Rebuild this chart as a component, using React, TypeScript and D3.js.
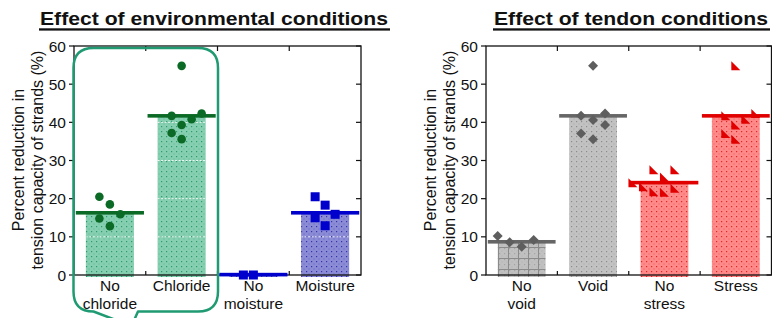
import * as d3 from "d3";

// left panel: environmental conditions
const envCategories = ["No chloride", "Chloride", "No moisture", "Moisture"];
const envLabels = [["No", "chloride"], ["Chloride"], ["No", "moisture"], ["Moisture"]];
const envMeans = [16.3, 41.7, 0.1, 16.3];
const noChlorideVals = [20.5, 18.5, 14.8, 15.9, 12.8];
const noChlorideSlots = [-1, 0, -1, 1, 0];
const chlorideVals = [54.8, 41.7, 42.3, 40.8, 39.3, 37.2, 35.6];
const chlorideSlots = [0, -1, 2, 1, 0, -1, 0];
const noMoistureVals = [0, 0];
const noMoistureSlots = [-1, 0];
const moistureVals = [20.5, 18.3, 15.9, 15.0, 12.9];
const moistureSlots = [-1, 0, 1, -1, 0];

// right panel: tendon conditions
const tenCategories = ["No void", "Void", "No stress", "Stress"];
const tenLabels = [["No", "void"], ["Void"], ["No", "stress"], ["Stress"]];
const tenMeans = [8.7, 41.7, 24.2, 41.7];
const noVoidVals = [10.2, 8.6, 7.4, 9.2];
const noVoidSlots = [-2, -1, 0, 1];
const voidVals = [54.8, 41.7, 42.3, 40.6, 39.3, 37.1, 35.6];
const voidSlots = [0, -1, 1, 0, 1, -1, 0];
const noStressVals = [27.6, 27.6, 25.7, 24.2, 23.1, 21.8, 21.7, 22.7];
const noStressSlots = [-1, 1, 0, -3, -2, -1, 0, 1];
const stressVals = [54.8, 41.7, 42.3, 40.8, 39.3, 37.1, 35.6];
const stressSlots = [0, -1, 2, 1, 0, -1, 0];

const yTicks = [0, 10, 20, 30, 40, 50, 60];

const FONT = "Arial, 'Liberation Sans', Helvetica, sans-serif";

const y = d3.scaleLinear().domain([0, 60]).range([275, 46]);

type Series = { vals: number[]; slots: number[]; spacing: number; marker: string; color: string };

function Marker({ kind, cx, cy, color }: { kind: string; cx: number; cy: number; color: string }) {
  if (kind === "circle") return <circle cx={cx} cy={cy} r={4.3} fill={color} />;
  if (kind === "square") return <rect x={cx - 4.5} y={cy - 4.5} width={9} height={9} fill={color} />;
  if (kind === "diamond") {
    const s = 5;
    return <path d={`M${cx},${cy - s}L${cx + s},${cy}L${cx},${cy + s}L${cx - s},${cy}Z`} fill={color} />;
  }
  // right triangle, right angle at bottom-left
  const h = 4.5;
  return <path d={`M${cx - h},${cy - h}L${cx - h},${cy + h}L${cx + h},${cy + h}Z`} fill={color} />;
}

function Panel(props: {
  x0: number;
  x1: number;
  title: string;
  titleX: number;
  titleLen: number;
  cats: string[];
  labels: string[][];
  means: number[];
  series: Series[];
  barFills: string[];
  meanColors: string[];
  whiteGrid: boolean;
}) {
  const { x0, x1, cats, labels, means, series, barFills, meanColors } = props;
  const x = d3.scaleBand().domain(cats).range([x0, x1]);
  const bw = x.bandwidth();
  const barW = bw * 0.67;
  const lineW = bw * 0.95;
  const bounds = cats.slice(1).map((c) => x(c) as number);
  return (
    <g fontFamily={FONT}>
      <text
        x={props.titleX}
        y={25}
        fontSize={19}
        fontWeight="bold"
        textLength={props.titleLen}
        lengthAdjust="spacingAndGlyphs"
        fill="#111"
      >
        {props.title}
      </text>
      <rect x={props.titleX - 1} y={28.3} width={props.titleLen + 3} height={2.3} fill="#111" />

      {cats.map((c, i) => {
        const cx = (x(c) as number) + bw / 2;
        return (
          <g key={c}>
            <rect
              x={cx - barW / 2}
              y={y(means[i])}
              width={barW}
              height={Math.max(0, y(0) - y(means[i]) + 2)}
              fill={barFills[i]}
            />
            {props.whiteGrid &&
              [10, 20, 30, 40, 50]
                .filter((t) => t < means[i] - 0.5)
                .map((t) => (
                  <line
                    key={t}
                    x1={cx - barW / 2}
                    x2={cx + barW / 2}
                    y1={y(t)}
                    y2={y(t)}
                    stroke="#fff"
                    strokeWidth={1}
                    strokeDasharray="2,1.5"
                    opacity={0.85}
                  />
                ))}
          </g>
        );
      })}

      {/* axes box */}
      <rect x={x0} y={y(60)} width={x1 - x0} height={y(0) - y(60)} fill="none" stroke="#111" strokeWidth={1.3} />
      {yTicks.map((t) => (
        <g key={t}>
          <line x1={x0 - 5} x2={x0} y1={y(t)} y2={y(t)} stroke="#111" strokeWidth={1.2} />
          <line x1={x1 - 5} x2={x1} y1={y(t)} y2={y(t)} stroke="#111" strokeWidth={1.2} />
          <text x={x0 - 8} y={y(t)} dy="0.36em" textAnchor="end" fontSize={15.5} fill="#111">
            {t}
          </text>
        </g>
      ))}
      {bounds.map((b) => (
        <g key={b}>
          <line x1={b} x2={b} y1={y(60)} y2={y(60) + 5} stroke="#111" strokeWidth={1.2} />
          <line x1={b} x2={b} y1={y(0)} y2={y(0) - 4} stroke="#111" strokeWidth={1.2} />
        </g>
      ))}

      {/* y label */}
      <text transform={`translate(${x0 - 50.5},160) rotate(-90)`} textAnchor="middle" fontSize={16} fill="#111">
        Percent reduction in
      </text>
      <text transform={`translate(${x0 - 31.5},160) rotate(-90)`} textAnchor="middle" fontSize={16} fill="#111">
        tension capacity of strands (%)
      </text>

      {/* category labels */}
      {cats.map((c, i) => {
        const cx = (x(c) as number) + bw / 2;
        return labels[i].map((l, j) => (
          <text key={c + j} x={cx} y={291 + j * 18} textAnchor="middle" fontSize={15.5} fill="#111">
            {l}
          </text>
        ));
      })}

      {/* mean lines */}
      {cats.map((c, i) => {
        const cx = (x(c) as number) + bw / 2;
        return (
          <rect key={c} x={cx - lineW / 2} y={y(means[i]) - 1.8} width={lineW} height={3.6} fill={meanColors[i]} />
        );
      })}

      {/* individual specimens */}
      {series.map((s, i) => {
        const cx = (x(cats[i]) as number) + bw / 2;
        return s.vals.map((v, j) => (
          <Marker key={i + "-" + j} kind={s.marker} cx={cx + s.slots[j] * s.spacing} cy={y(v)} color={s.color} />
        ));
      })}
    </g>
  );
}

export default function App() {
  const green = "#0b6a25";
  const blue = "#0000cc";
  const grey = "#5e5e5e";
  const red = "#e00000";
  const envSeries: Series[] = [
    { vals: noChlorideVals, slots: noChlorideSlots, spacing: 10.5, marker: "circle", color: green },
    { vals: chlorideVals, slots: chlorideSlots, spacing: 10, marker: "circle", color: green },
    { vals: noMoistureVals, slots: noMoistureSlots, spacing: 10, marker: "square", color: blue },
    { vals: moistureVals, slots: moistureSlots, spacing: 10, marker: "square", color: blue },
  ];
  const tenSeries: Series[] = [
    { vals: noVoidVals, slots: noVoidSlots, spacing: 12, marker: "diamond", color: grey },
    { vals: voidVals, slots: voidSlots, spacing: 12, marker: "diamond", color: grey },
    { vals: noStressVals, slots: noStressSlots, spacing: 10.5, marker: "triangle", color: red },
    { vals: stressVals, slots: stressSlots, spacing: 10, marker: "triangle", color: red },
  ];

  // callout bubble around the chloride pair
  const bl = 73.5, bt = 48, br = 218, bb = 311.5, r = 20;
  const bubble =
    `M${bl + r},${bt}L${br - r},${bt}Q${br},${bt} ${br},${bt + r}` +
    `L${br},${bb - r}Q${br},${bb} ${br - r},${bb}L138,${bb}L131.5,326L${bl + r},${bb}` +
    `Q${bl},${bb} ${bl},${bb - r}L${bl},${bt + r}Q${bl},${bt} ${bl + r},${bt}Z`;

  return (
    <svg width={772} height={318} style={{ position: "absolute", left: 0, top: 0, background: "#fff" }}>
      <defs>
        <pattern id="dotGreen" width={5} height={5} patternUnits="userSpaceOnUse">
          <rect width={5} height={5} fill="#86cfb1" />
          <rect x={1} y={1} width={1.2} height={1.2} fill="#2b9a6e" />
          <rect x={3.5} y={3.5} width={1} height={1} fill="#5fb894" />
        </pattern>
        <pattern id="dotBlue" width={5} height={5} patternUnits="userSpaceOnUse">
          <rect width={5} height={5} fill="#8b8bd6" />
          <rect x={1} y={1} width={1.2} height={1.2} fill="#3333aa" />
          <rect x={3.5} y={3.5} width={1} height={1} fill="#6565c4" />
        </pattern>
        <pattern id="dotGrey" width={5} height={5} patternUnits="userSpaceOnUse">
          <rect width={5} height={5} fill="#c2c2c2" />
          <rect x={1} y={1} width={1.2} height={1.2} fill="#8c8c8c" />
          <rect x={3.5} y={3.5} width={1} height={1} fill="#a8a8a8" />
        </pattern>
        <pattern id="gridGrey" width={10} height={11} patternUnits="userSpaceOnUse" x={498} y={236}>
          <rect width={10} height={11} fill="url(#dotGrey)" />
          <rect width={10} height={11} fill="#bdbdbd" opacity={0.5} />
          <path d="M0,0.5H10M0.5,0V11" stroke="#8a8a8a" strokeWidth={1} />
        </pattern>
        <pattern id="dotRed" width={5} height={5} patternUnits="userSpaceOnUse">
          <rect width={5} height={5} fill="#ff8a8a" />
          <rect x={1} y={1} width={1.2} height={1.2} fill="#e02525" />
          <rect x={3.5} y={3.5} width={1} height={1} fill="#f05a5a" />
        </pattern>
      </defs>

      <Panel
        x0={74}
        x1={361}
        title="Effect of environmental conditions"
        titleX={40}
        titleLen={348}
        cats={envCategories}
        labels={envLabels}
        means={envMeans}
        series={envSeries}
        barFills={["url(#dotGreen)", "url(#dotGreen)", "url(#dotBlue)", "url(#dotBlue)"]}
        meanColors={[green, green, blue, blue]}
        whiteGrid={true}
      />
      <Panel
        x0={486}
        x1={771.5}
        title="Effect of tendon conditions"
        titleX={494}
        titleLen={274}
        cats={tenCategories}
        labels={tenLabels}
        means={tenMeans}
        series={tenSeries}
        barFills={["url(#gridGrey)", "url(#dotGrey)", "url(#dotRed)", "url(#dotRed)"]}
        meanColors={["#666666", "#666666", red, red]}
        whiteGrid={false}
      />

      <path d={bubble} fill="none" stroke="#1f9a72" strokeWidth={2.5} strokeLinejoin="round" />
    </svg>
  );
}
